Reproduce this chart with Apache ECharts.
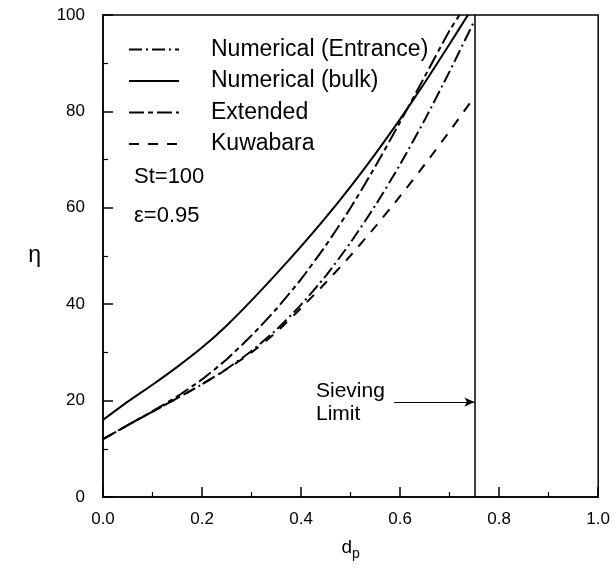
<!DOCTYPE html>
<html>
<head>
<meta charset="utf-8">
<script src="https://cdn.jsdelivr.net/npm/echarts@6/dist/echarts.min.js"></script>
<style>
  html, body { margin: 0; padding: 0; background: #fff; }
  #chart { width: 613px; height: 570px; }
</style>
</head>
<body>
<div id="chart"></div>
<script>
// Particle diameter d_p and collection efficiency eta for each model
const dpEntrance = [0, 0.05, 0.1, 0.15, 0.2, 0.25, 0.3, 0.35, 0.4, 0.45, 0.5, 0.55, 0.6, 0.65, 0.7, 0.75];
const etaEntrance = [12, 14.9, 17.7, 20.5, 23.4, 26.6, 30.3, 34.7, 39.9, 45.9, 52.8, 60.5, 69, 78.3, 88.3, 98.8];

const dpBulk = [0, 0.05, 0.1, 0.15, 0.2, 0.25, 0.3, 0.35, 0.4, 0.45, 0.5, 0.55, 0.6, 0.65, 0.7, 0.737];
const etaBulk = [16, 19.8, 23.3, 27, 31, 35.6, 40.8, 46.3, 52, 58, 64.4, 71.2, 78.4, 86, 94, 100];

const dpExtended = [0, 0.05, 0.1, 0.15, 0.2, 0.25, 0.3, 0.35, 0.4, 0.45, 0.5, 0.55, 0.6, 0.65, 0.7, 0.72];
const etaExtended = [12, 14.9, 17.8, 20.9, 24.4, 28.6, 33.5, 39, 45.2, 52.2, 60, 68.6, 77.8, 87.3, 96.8, 100];

const dpKuwabara = [0, 0.05, 0.1, 0.15, 0.2, 0.25, 0.3, 0.35, 0.4, 0.45, 0.5, 0.55, 0.6, 0.65, 0.7, 0.75];
const etaKuwabara = [12, 14.9, 17.7, 20.5, 23.4, 26.5, 30, 34.2, 39.2, 44.5, 50.1, 56.1, 62.4, 69, 75.9, 83];

// Sieving limit marker and its pointer arrow
const sievingLimit = 0.75;
const arrowStart = 0.588;
const arrowEta = 19.7;

const xTicks = [0, 0.2, 0.4, 0.6, 0.8, 1.0];
const yTicks = [0, 20, 40, 60, 80, 100];

const seriesNames = ['Numerical (Entrance)', 'Numerical (bulk)', 'Extended', 'Kuwabara'];

const pairs = (xs, ys) => xs.map((x, i) => [x, ys[i]]);

const FONT = 'Liberation Sans';
const chart = echarts.init(document.getElementById('chart'), null, { renderer: 'canvas' });

const lineSeries = (name, xs, ys, dash) => ({
  name: name,
  type: 'line',
  data: pairs(xs, ys),
  smooth: 0.2,
  symbol: 'none',
  showSymbol: false,
  clip: true,
  lineStyle: { color: '#000', width: 2, type: dash },
  itemStyle: { color: '#000' },
  animation: false
});

const option = {
  backgroundColor: '#fff',
  animation: false,
  grid: {
    left: 103, right: 9, top: 15, bottom: 73,
    show: true, borderColor: '#000', borderWidth: 1.5, backgroundColor: 'transparent'
  },
  legend: {
    orient: 'vertical',
    left: 123, top: 33,
    itemWidth: 50, itemHeight: 14, itemGap: 8.5,
    data: seriesNames,
    itemStyle: { opacity: 0 },
    textStyle: { fontFamily: FONT, fontSize: 23, color: '#000', padding: [0, 0, 0, 27] },
    selectedMode: false
  },
  xAxis: {
    type: 'value', min: 0, max: 1, interval: 0.2,
    name: '{d|d}{p|p}', nameLocation: 'middle', nameGap: 38,
    nameTextStyle: {
      rich: {
        d: { fontFamily: FONT, fontSize: 19, color: '#000' },
        p: { fontFamily: FONT, fontSize: 14, color: '#000', verticalAlign: 'bottom', padding: [12, 0, 0, 0] }
      }
    },
    axisLine: { lineStyle: { color: '#000', width: 1.5 } },
    axisTick: { inside: true, length: 10, lineStyle: { color: '#000', width: 1.5 } },
    minorTick: { show: true, splitNumber: 2, length: 5, lineStyle: { color: '#000', width: 1.2 } },
    splitLine: { show: false },
    axisLabel: {
      margin: 14, fontFamily: FONT, fontSize: 17, color: '#000',
      formatter: v => xTicks.find(t => Math.abs(t - v) < 1e-9).toFixed(1)
    }
  },
  yAxis: {
    type: 'value', min: 0, max: 100, interval: 20,
    name: 'η', nameLocation: 'middle', nameRotate: 0, nameGap: 62,
    nameTextStyle: { fontFamily: FONT, fontSize: 23, color: '#000' },
    axisLine: { lineStyle: { color: '#000', width: 1.5 } },
    axisTick: { inside: true, length: 10, lineStyle: { color: '#000', width: 1.5 } },
    minorTick: { show: true, splitNumber: 2, length: 5, lineStyle: { color: '#000', width: 1.2 } },
    splitLine: { show: false },
    axisLabel: {
      margin: 18, fontFamily: FONT, fontSize: 17, color: '#000',
      formatter: v => String(yTicks.find(t => Math.abs(t - v) < 1e-9))
    }
  },
  series: [
    lineSeries(seriesNames[0], dpEntrance, etaEntrance, [13, 4, 2, 4]),
    lineSeries(seriesNames[1], dpBulk, etaBulk, 'solid'),
    lineSeries(seriesNames[2], dpExtended, etaExtended, [15, 4, 5, 4]),
    Object.assign(lineSeries(seriesNames[3], dpKuwabara, etaKuwabara, [10, 9]), {
      markLine: {
        silent: true,
        animation: false,
        label: { show: false },
        data: [
          [
            { coord: [sievingLimit, 0], symbol: 'none', lineStyle: { type: 'solid', color: '#000', width: 1.5 } },
            { coord: [sievingLimit, 100], symbol: 'none' }
          ],
          [
            { coord: [arrowStart, arrowEta], symbol: 'none', lineStyle: { type: 'solid', color: '#000', width: 1.2 } },
            { coord: [sievingLimit, arrowEta], symbol: 'arrow', symbolSize: [7, 10] }
          ]
        ]
      }
    })
  ],
  graphic: [
    {
      type: 'text', left: 134, top: 166,
      style: { text: 'St=100', fontFamily: FONT, fontSize: 22, fill: '#000' }
    },
    {
      type: 'text', left: 134, top: 205,
      style: { text: 'ε=0.95', fontFamily: FONT, fontSize: 22, fill: '#000' }
    },
    {
      type: 'text', left: 316, top: 380,
      style: { text: 'Sieving\nLimit', fontFamily: FONT, fontSize: 21, lineHeight: 23, fill: '#000' }
    }
  ]
};

chart.setOption(option);
</script>
</body>
</html>
